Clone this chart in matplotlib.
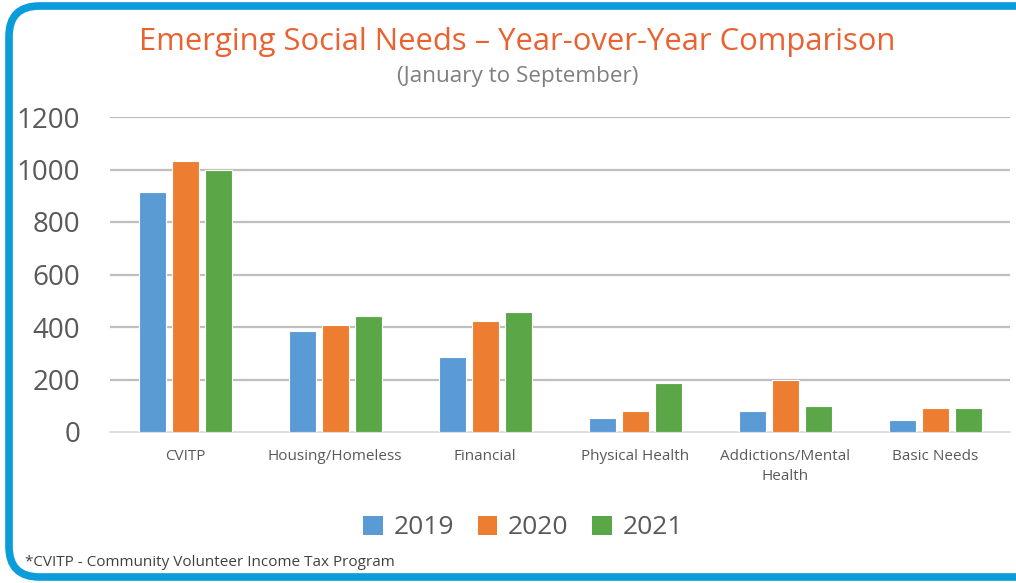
import numpy as np
import matplotlib.pyplot as plt
from matplotlib.patches import FancyBboxPatch, Patch

# -------------------------
# Data
# -------------------------

categories = ["CVITP", "Housing/Homeless", "Financial", "Physical Health",
              "Addictions/Mental\nHealth", "Basic Needs"]
years = ["2019", "2020", "2021"]
values_2019 = [915, 386, 287, 53, 81, 46]
values_2020 = [1032, 408, 423, 81, 198, 90]
values_2021 = [1000, 443, 457, 187, 98, 90]
yticks = [0, 200, 400, 600, 800, 1000, 1200]

colors = ["#5B9BD5", "#ED7D31", "#5BA748"]
grey_text = "#595959"

plt.rcParams['font.family'] = ['Open Sans', 'DejaVu Sans']

# -------------------------
# Figure and frame
# -------------------------

fig = plt.figure(figsize=(10.16, 5.83), dpi=100)

frame = FancyBboxPatch((9 / 1016, 6 / 583), 1040 / 1016, 571 / 583,
                       boxstyle="round,pad=0,rounding_size=0.03",
                       transform=fig.transFigure, facecolor="white",
                       edgecolor="#0B9CDA", linewidth=5.5, zorder=-5,
                       mutation_aspect=1016 / 583)
fig.patches.append(frame)

ax = fig.add_axes([110 / 1016, 1 - 432 / 583, 900 / 1016, 315 / 583])
ax.set_zorder(2)
ax.set_facecolor("none")

# -------------------------
# Bars
# -------------------------

x = np.arange(len(categories))
width = 0.18
offset = 0.22
series = [values_2019, values_2020, values_2021]

for i, vals in enumerate(series):
    ax.bar(x + (i - 1) * offset, vals, width, color=colors[i],
           edgecolor="white", linewidth=0.8, zorder=3, label=years[i])

ax.set_xlim(-0.5, len(categories) - 0.5)
ax.set_ylim(0, 1200)
ax.set_yticks(yticks)
ax.set_yticklabels([str(t) for t in yticks], fontsize=20, color=grey_text)
ax.set_xticks(x)
ax.set_xticklabels(categories, fontsize=11, color=grey_text,
                   linespacing=1.4, va="top")

ax.tick_params(axis="both", length=0)
ax.tick_params(axis="x", pad=12.5)
ax.tick_params(axis="y", pad=21.5)

for s in ["top", "right", "left"]:
    ax.spines[s].set_visible(False)
ax.spines["bottom"].set_color("#D9D9D9")
ax.spines["bottom"].set_linewidth(1.2)

ax.yaxis.grid(True, color="#BFBFBF", linewidth=1.6, zorder=0)
ax.set_axisbelow(True)
for line in ax.get_ygridlines()[:1]:
    line.set_visible(False)

# -------------------------
# Titles, legend, note
# -------------------------

fig.text(517 / 1016, 1 - 42 / 583,
         "Emerging Social Needs \u2013 Year-over-Year Comparison",
         ha="center", va="center", fontsize=22.3, color="#E9622F", zorder=3)
fig.text(518 / 1016, 1 - 76 / 583, "(January to September)",
         ha="center", va="center", fontsize=16.2, color="#7F7F7F", zorder=3)

handles = [Patch(facecolor=c, edgecolor="none") for c in colors]
leg = fig.legend(handles, years, loc="center",
                 bbox_to_anchor=(523 / 1016, 1 - 528 / 583),
                 ncol=3, frameon=False, fontsize=19, labelcolor=grey_text,
                 handlelength=0.75, handleheight=0.75, handletextpad=0.4,
                 columnspacing=0.9)
leg.set_zorder(3)

fig.text(25 / 1016, 1 - 563 / 583,
         "*CVITP - Community Volunteer Income Tax Program",
         ha="left", va="center", fontsize=11, color="#404040", zorder=3)

plt.savefig("out.png", dpi=100)
